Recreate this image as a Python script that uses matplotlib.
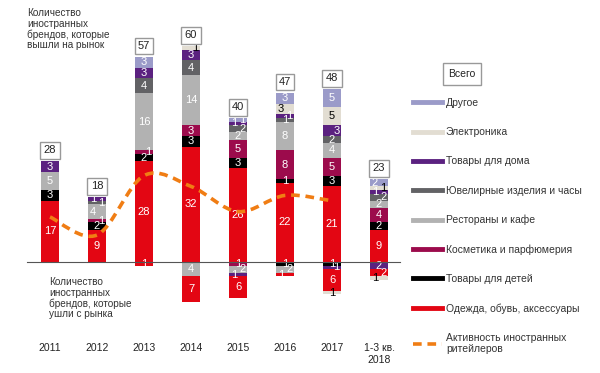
import matplotlib
matplotlib.use("Agg")
import matplotlib.pyplot as plt
from matplotlib.path import Path
from matplotlib.patches import PathPatch
from matplotlib.lines import Line2D
import numpy as np

plt.rcParams['font.family'] = ['Liberation Sans', 'DejaVu Sans']

years = ['2011', '2012', '2013', '2014', '2015', '2016', '2017', '1-3 кв.\n2018']

categories = ['Одежда, обувь, аксессуары', 'Товары для детей', 'Косметика и парфюмерия',
              'Рестораны и кафе', 'Ювелирные изделия и часы', 'Товары для дома',
              'Электроника', 'Другое']
colors = ['#e30613', '#000000', '#9c0b4c', '#b2b2b2', '#626265', '#5b2180', '#e2ddd2', '#9b9bc9']
text_colors = ['white', 'white', 'white', 'white', 'white', 'white', 'black', 'white']

# brands that entered the market (stacked up, same order as categories)
entered = [
    [17, 9, 28, 32, 26, 22, 21, 9],   # одежда
    [3, 2, 2, 3, 3, 1, 3, 2],         # дети
    [0, 1, 1, 3, 5, 8, 5, 4],         # косметика
    [5, 4, 16, 14, 2, 8, 4, 2],       # рестораны
    [0, 1, 4, 4, 2, 1, 2, 2],         # ювелирные
    [3, 1, 3, 3, 1, 1, 3, 1],         # дом
    [0, 0, 0, 1, 0, 3, 5, 1],         # электроника
    [0, 0, 3, 0, 1, 3, 5, 2],         # другое
]

# brands that left the market (stacked down)
exited = [
    [0, 0, 1, 7, 6, 1, 6, 2],         # одежда
    [0, 0, 0, 0, 0, 1, 1, 0],         # дети
    [0, 0, 0, 0, 1, 0, 0, 0],         # косметика
    [0, 0, 0, 4, 2, 2, 0, 0],         # рестораны
    [0, 0, 0, 0, 0, 0, 0, 0],         # ювелирные
    [0, 0, 0, 0, 1, 0, 1, 2],         # дом
    [0, 0, 0, 0, 0, 0, 1, 1],         # электроника
    [0, 0, 0, 0, 0, 0, 0, 0],         # другое
]
# order in which the exited segments go down from zero
exit_order = [1, 2, 3, 4, 5, 0, 6, 7]

activity = [12.5, 7.5, 24, 21, 14, 18.5, 17]

fig = plt.figure(figsize=(6, 3.73), dpi=100)
ax = fig.add_axes([0, 0, 1, 1])
ax.set_xlim(-50 / 47, 550 / 47)
ax.set_ylim(-111 / 3.6, 262 / 3.6)
ax.axis('off')

x = np.arange(len(years))
w = 0.4

# remember last label per bar so small neighbours get nudged sideways
last_y = [None] * len(years)
nudge = [0] * len(years)


def seg_label(j, yc, v, col):
    dx = 0.0
    if last_y[j] is not None and abs(yc - last_y[j]) < 2.6:
        nudge[j] = 1 - nudge[j] if nudge[j] else 1
        dx = 0.09 if nudge[j] == 1 else -0.09
    else:
        nudge[j] = 0
    ax.text(x[j] + dx, yc, f"{int(v)}", ha='center', va='center', fontsize=8, color=col)
    last_y[j] = yc


bottom = np.zeros(len(years))
for i, cat in enumerate(categories):
    vals = np.array(entered[i], dtype=float)
    ax.bar(x, vals, w, bottom=bottom, color=colors[i], linewidth=0)
    for j, v in enumerate(vals):
        if v > 0:
            seg_label(j, bottom[j] + v / 2, v, text_colors[i])
    bottom += vals
totals = bottom.copy()

last_y = [None] * len(years)
nudge = [0] * len(years)
neg = np.zeros(len(years))
for i in exit_order:
    vals = np.array(exited[i], dtype=float)
    ax.bar(x, -vals, w, bottom=-neg, color=colors[i], linewidth=0)
    for j, v in enumerate(vals):
        if v > 0:
            seg_label(j, -neg[j] - v / 2, v, text_colors[i])
    neg += vals

for j, t in enumerate(totals):
    ax.text(x[j], t + 3, f"{int(t)}", ha='center', va='center', fontsize=8, color='#222222',
            bbox=dict(boxstyle='square,pad=0.3', fc='white', ec='#999999', lw=1))

ax.plot([-0.5, 7.45], [0, 0], color='#555555', lw=0.8, zorder=3)

# smooth activity curve (Catmull-Rom as cubic bezier)
pts = np.column_stack([x[:len(activity)], activity]).astype(float)
ext = np.vstack([pts[0], pts, pts[-1]])
verts = [tuple(pts[0])]
codes = [Path.MOVETO]
for k in range(1, len(ext) - 2):
    p0, p1, p2, p3 = ext[k - 1], ext[k], ext[k + 1], ext[k + 2]
    verts += [tuple(p1 + (p2 - p0) / 6), tuple(p2 - (p3 - p1) / 6), tuple(p2)]
    codes += [Path.CURVE4] * 3
curve = PathPatch(Path(verts, codes), fill=False, ec='#f07d14', lw=2.6,
                  linestyle=(0, (2.4, 1.6)), zorder=4, capstyle='butt')
ax.add_patch(curve)

for j, yl in enumerate(years):
    ax.text(x[j], -22.5, yl, ha='center', va='top', fontsize=7.5, color='#222222',
            linespacing=1.2)

ax.text(27 / 600, 1 - 8 / 373, 'Количество\nиностранных\nбрендов, которые\nвышли на рынок',
        transform=fig.transFigure, ha='left', va='top', fontsize=7.2, color='#333333',
        linespacing=1.08)
ax.text(49 / 600, 1 - 277 / 373, 'Количество\nиностранных\nбрендов, которые\nушли с рынка',
        transform=fig.transFigure, ha='left', va='top', fontsize=7.2, color='#333333',
        linespacing=1.08)

fig.text(462 / 600, 1 - 74 / 373, 'Всего', ha='center', va='center', fontsize=7.5,
         color='#222222',
         bbox=dict(boxstyle='square,pad=0.55', fc='white', ec='#999999', lw=1))

handles = [Line2D([], [], color=colors[i], lw=3.5) for i in range(len(categories) - 1, -1, -1)]
labels = [categories[i] for i in range(len(categories) - 1, -1, -1)]
handles.append(Line2D([], [], color='#f07d14', lw=2.6, dashes=(2.4, 1.6)))
labels.append('Активность иностранных\nритейлеров')
fig.legend(handles, labels, loc='upper left', bbox_to_anchor=(413 / 600, 1 - 98 / 373),
           frameon=False, fontsize=7.5, labelspacing=1.84, handlelength=2.8,
           handletextpad=0.35, borderpad=0, borderaxespad=0, labelcolor='#333333')

fig.savefig('out.png', dpi=100)
